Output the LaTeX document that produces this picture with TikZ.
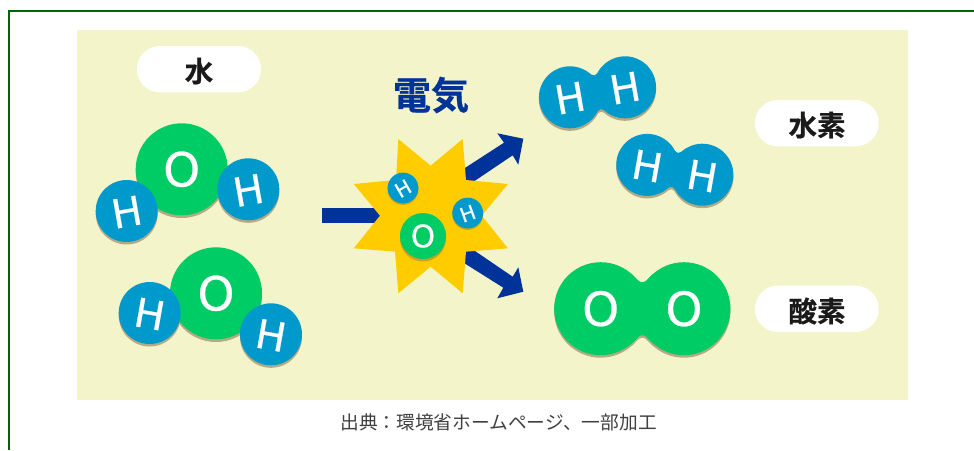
\documentclass[tikz,border=0pt]{standalone}
\usepackage{fontspec}
\setmainfont{DejaVu Sans}
\newfontfamily\cjkreg{Noto Sans CJK JP}
\newfontfamily\cjkbold{Noto Sans CJK JP Bold}[FakeBold=0.6]
\newfontfamily\letterfont{DejaVu Sans}[FakeBold=0.5]
\definecolor{panelc}{HTML}{F4F4CA}
\definecolor{greenc}{HTML}{00CC66}
\definecolor{bluec}{HTML}{0099CC}
\definecolor{shadowc}{HTML}{B5AA85}
\definecolor{starc}{HTML}{FFCC00}
\definecolor{starsh}{HTML}{C9A41A}
\definecolor{navyc}{HTML}{003399}
\definecolor{framec}{HTML}{006400}
\definecolor{inkc}{HTML}{1A1A1A}
\tikzset{
  labelpill/.style={fill=white,rounded corners=22.9pt,draw=none},
  pilltext/.style={font=\cjkbold\fontsize{28.5}{28.5}\selectfont,text=inkc,inner sep=0pt},
  letter/.style={text=white,inner sep=0pt},
  bigH/.style={letter,font=\letterfont\fontsize{40}{40}\selectfont},
  bigO/.style={letter,font=\letterfont\fontsize{47}{47}\selectfont},
  smallH/.style={letter,font=\letterfont\fontsize{20}{20}\selectfont},
  smallO/.style={letter,font=\letterfont\fontsize{31}{31}\selectfont},
}
% \atomdisc{x}{y}{r}{colour}
\newcommand{\atomdisc}[4]{\fill[#4] (#1,#2) circle[radius=#3];}
% \twin{cx}{cy}{angle}{half dist}{r}{a}{b}{notch}{colour}
\newcommand{\twin}[9]{%
  \begin{scope}[shift={(#1,#2)},rotate=#3]
    \fill[#9] (-#4,0) circle[radius=#5];
    \fill[#9] (#4,0) circle[radius=#5];
    \fill[#9] (-#6,-#7) .. controls (-#6*0.45,-#8-#7*0.08) and (-#6*0.3,-#8) .. (0,-#8)
       .. controls (#6*0.3,-#8) and (#6*0.45,-#8-#7*0.08) .. (#6,-#7)
       -- (#6,#7) .. controls (#6*0.45,#8+#7*0.08) and (#6*0.3,#8) .. (0,#8)
       .. controls (-#6*0.3,#8) and (-#6*0.45,#8+#7*0.08) .. (-#6,#7) -- cycle;
  \end{scope}}
\begin{document}
\begin{tikzpicture}[x=1pt,y=-1pt]
\useasboundingbox (0,0) rectangle (974,450);
\fill[white] (0,0) rectangle (974,450);
% frame
\fill[framec] (8,10) rectangle (974,12);
\fill[framec] (8,10) rectangle (10,450);
% panel
\fill[panelc] (77,30) rectangle (908,400);

% pills
\fill[labelpill] (137,46) rectangle (261,92.3);
\node[pilltext] (lblwater) at (199,71) {水};
\fill[labelpill] (755,100) rectangle (878.7,146.3);
\node[pilltext] (lblhydrogen) at (817,125) {水素};
\fill[labelpill] (755,285.7) rectangle (878.7,332);
\node[pilltext] (lbloxygen) at (817,311) {酸素};

% water 1
\atomdisc{181.7}{172}{46}{shadowc}
\atomdisc{126.7}{213.5}{31}{shadowc}
\atomdisc{248.3}{191.8}{31}{shadowc}
\atomdisc{181.7}{169.3}{46}{greenc}
\atomdisc{126.7}{211}{31}{bluec}
\atomdisc{248.3}{189.3}{31}{bluec}
\node[bigO] (o1) at (181.7,169.3) {O};
\node[bigH,rotate=10] (h1) at (126.7,212) {H};
\node[bigH,rotate=10] (h2) at (248.3,190.3) {H};
% water 2
\atomdisc{216}{296}{46}{shadowc}
\atomdisc{149.7}{315.5}{31}{shadowc}
\atomdisc{271}{336.8}{31}{shadowc}
\atomdisc{216}{293.3}{46}{greenc}
\atomdisc{149.7}{313}{31}{bluec}
\atomdisc{271}{334.3}{31}{bluec}
\node[bigO] (o2) at (216,293.3) {O};
\node[bigH,rotate=-10] (h3) at (149.7,314) {H};
\node[bigH,rotate=-10] (h4) at (271,335.3) {H};

% title
\node[font=\cjkbold\fontsize{38}{38}\selectfont,text=navyc,inner sep=0pt] (title) at (431,95) {電気};

% arrows
\fill[navyc] (322.3,208.3) rectangle (382,223.3);
\fill[navyc] (464,168.6) -- (504,142.7) -- (497.3,133.3) -- (523.3,138.7) -- (518.3,164.7) -- (512.7,155.3) -- (475,180.7) -- (464,182) -- cycle;
\fill[navyc] (475,251) -- (512.7,276.7) -- (518.3,267.3) -- (523.3,291.7) -- (497.3,298.3) -- (503.3,287.7) -- (464,263) -- (464,250) -- cycle;
% star
\begin{scope}[shift={(310,70)},scale=0.33333]
  \fill[starc] (265,207) -- (362,287) -- (458,207) -- (468,330) -- (594,342) -- (515,437)
     -- (594,535) -- (468,545) -- (458,670) -- (362,590) -- (265,670) -- (255,545)
     -- (131,535) -- (210,437) -- (131,342) -- (258,330) -- cycle;
\end{scope}
\atomdisc{403}{189.5}{15.4}{starsh}
\atomdisc{467.7}{214.5}{15.4}{starsh}
\atomdisc{423}{238.5}{23}{starsh}
\atomdisc{403}{188}{15.4}{bluec}
\atomdisc{467.7}{213}{15.4}{bluec}
\atomdisc{423}{236}{23}{greenc}
\node[smallH,rotate=30] (h5) at (403,188.5) {H};
\node[smallH,rotate=20] (h6) at (467.7,213.5) {H};
\node[smallO] (o3) at (423,236) {O};

% H2 and O2 molecules
\begin{scope}[yshift=-2.5pt]
\twin{597.5}{92.3}{10.3}{28}{31}{8}{23.7}{17.2}{shadowc}
\twin{674.8}{169.8}{-10.1}{28}{31}{8}{23.7}{17.2}{shadowc}
\twin{642.3}{308.7}{0}{41.65}{46.5}{11}{35}{26.5}{shadowc}
\end{scope}
\twin{597.5}{92.3}{10.3}{28}{31}{8}{23.7}{17.2}{bluec}
\twin{674.8}{169.8}{-10.1}{28}{31}{8}{23.7}{17.2}{bluec}
\twin{642.3}{308.7}{0}{41.65}{46.5}{11}{35}{26.5}{greenc}
\node[bigH,rotate=10] (h7) at (570,98) {H};
\node[bigH,rotate=10] (h8) at (625,88) {H};
\node[bigH,rotate=-10] (h9) at (647.3,166) {H};
\node[bigH,rotate=-10] (h10) at (702.3,176) {H};
\node[bigO] (o4) at (600.7,308.7) {O};
\node[bigO] (o5) at (684,308.7) {O};

% caption
\node[font=\cjkreg\fontsize{18.7}{18.7}\selectfont,text=black!75,inner sep=0pt] (caption) at (498.5,422) {出典：環境省ホームページ、一部加工};
\end{tikzpicture}
\end{document}
